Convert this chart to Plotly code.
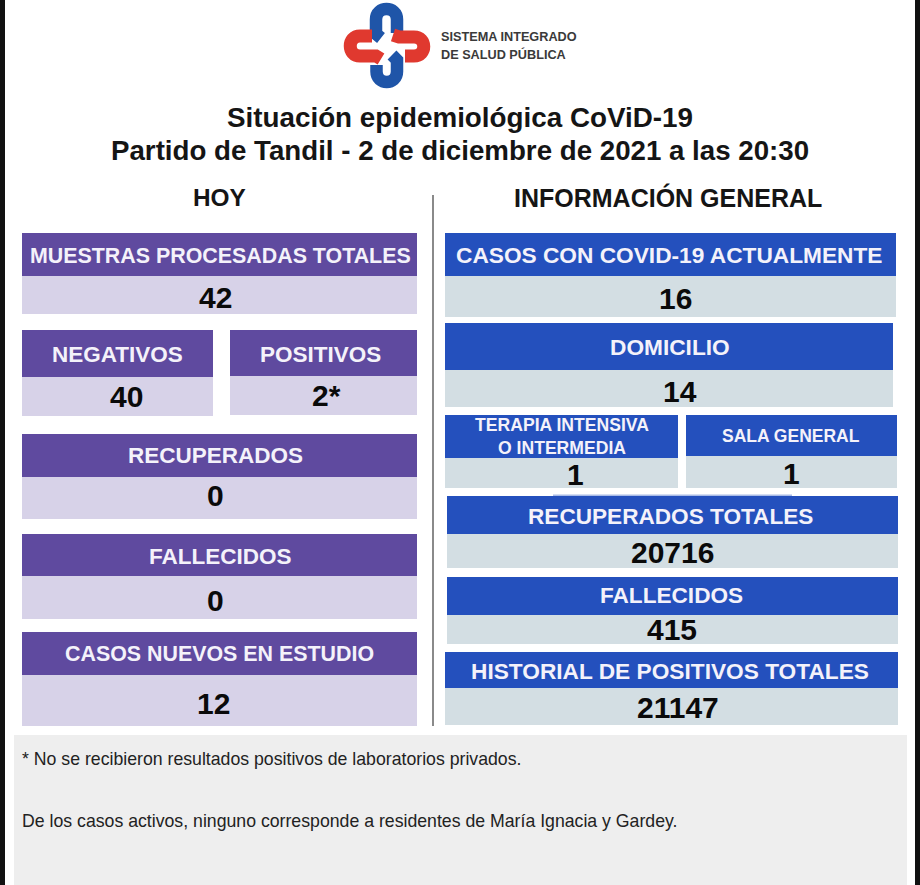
import plotly.graph_objects as go

# texts
title_lines = ["Situación epidemiológica CoViD-19", "Partido de Tandil - 2 de diciembre de 2021 a las 20:30"]
column_titles = ["HOY", "INFORMACIÓN GENERAL"]
logo_lines = ["SISTEMA INTEGRADO", "DE SALUD PÚBLICA"]
notes = ["* No se recibieron resultados positivos de laboratorios privados.",
         "De los casos activos, ninguno corresponde a residentes de María Ignacia y Gardey."]

hoy_labels = ["MUESTRAS PROCESADAS TOTALES", "NEGATIVOS", "POSITIVOS", "RECUPERADOS", "FALLECIDOS",
              "CASOS NUEVOS EN ESTUDIO"]
hoy_values = ["42", "40", "2*", "0", "0", "12"]

general_labels = ["CASOS CON COVID-19 ACTUALMENTE", "DOMICILIO", "TERAPIA INTENSIVA<br>O INTERMEDIA",
                  "SALA GENERAL", "RECUPERADOS TOTALES", "FALLECIDOS", "HISTORIAL DE POSITIVOS TOTALES"]
general_values = ["16", "14", "1", "1", "20716", "415", "21147"]

# card geometry in page pixels: left, right, header top, header bottom, value bottom
hoy_boxes = [(22, 417, 233, 276, 314), (22, 213, 330, 377, 416), (230, 417, 330, 376, 415),
             (22, 417, 434, 477, 519), (22, 417, 534, 576, 619), (22, 417, 632, 675, 726)]
general_boxes = [(445, 896, 233, 276, 317), (445, 893, 323, 370, 407), (445, 678, 415, 458, 488),
                 (686, 897, 415, 456, 488), (447, 898, 496, 534, 568), (447, 898, 577, 615, 644),
                 (445, 898, 652, 688, 725)]

# text placement per card: header size, header centre x, header centre y, value centre x, value centre y
hoy_text = [(21.4, 220.5, 256, 215, 297), (22.5, 117.5, 354, 126, 396), (22.5, 320.5, 354, 326, 395),
            (22.5, 215, 455.5, 215, 495), (22.5, 220.5, 556, 215, 600), (21.4, 219.5, 654, 213, 703)]
general_text = [(22.7, 669, 254.5, 675, 298), (22.7, 669.5, 347, 680, 391), (17.6, 562, 436.5, 575, 474),
                (17.5, 791, 436, 791, 473), (22.6, 670, 516, 672, 552), (22.6, 671, 595.5, 672, 629),
                (22.7, 670, 671, 678, 707)]

PURPLE, LILAC = "#5f4a9f", "#d7d2e8"
BLUE, GREY_BLUE = "#2450bd", "#d3dee3"
LOGO_BLUE, LOGO_RED = "#1f55a8", "#e0392f"
FONT = "Liberation Sans"

shapes = []
annotations = []


def rect(x0, x1, y0, y1, color):
    shapes.append(dict(type="rect", x0=x0, x1=x1, y0=y0, y1=y1, fillcolor=color, line_width=0, layer="below"))


def stroke(path, color, width):
    shapes.append(dict(type="path", path=path, line=dict(color=color, width=width)))


def label(x, y, text, size, color="black", bold=True, anchor="center"):
    annotations.append(dict(x=x, y=y, text=f"<b>{text}</b>" if bold else text, showarrow=False, xanchor=anchor,
                            yanchor="middle", font=dict(family=FONT, size=size, color=color)))


def draw_cards(labels, values, boxes, placed, head_color, value_color):
    for text, value, box, place in zip(labels, values, boxes, placed):
        x0, x1, y0, y1, y2 = box
        size, head_x, head_y, value_x, value_y = place
        rect(x0, x1, y0, y1, head_color)
        rect(x0, x1, y1, y2, value_color)
        label(head_x, head_y, text, size, "#f4f2fa")
        label(value_x, value_y, value, 30, "#0a0a0a")


# page edges and note panel
rect(0, 5, 0, 885, "#111111")
rect(915, 920, 0, 885, "#111111")
rect(14, 907, 735, 885, "#eeeeee")

draw_cards(hoy_labels, hoy_values, hoy_boxes, hoy_text, PURPLE, LILAC)
draw_cards(general_labels, general_values, general_boxes, general_text, BLUE, GREY_BLUE)

# thin strip left above the recuperados card in the original
rect(553, 792, 494.5, 496, "#a9bbe6")

# divider between columns
shapes.append(dict(type="line", x0=433, x1=433, y0=195, y1=726, line=dict(color="#8a8a8a", width=2)))

# logo, two interlaced loops with a white centre
stroke("M 397 33 L 397 19.5 C 397 5.5 376 5.5 376 19.5 L 376 34 L 381 38", LOGO_BLUE, 12.5)
stroke("M 392 55 L 397 60 L 397 71.5 C 397 85.5 376.5 85.5 376.5 71.5 L 376.5 65", LOGO_BLUE, 12.5)
stroke("M 372 36 L 360 36 C 347 36 347 56 360 56 L 376 56 L 381 59", LOGO_RED, 13)
stroke("M 393 35 L 399 37 L 414 37 C 427 37 427 56 414 56 L 405 56", LOGO_RED, 13)

label(438.5, 37, logo_lines[0], 12.7, "#3a3a3a", anchor="left")
label(438.5, 54, logo_lines[1], 12.7, "#3a3a3a", anchor="left")

label(459.5, 117, title_lines[0], 27.8, "#151515")
label(459.5, 150, title_lines[1], 27.7, "#151515")
label(219, 197.5, column_titles[0], 24.4, "#151515")
label(668, 197.5, column_titles[1], 25, "#151515")

label(20, 759, notes[0], 17.7, "#222222", bold=False, anchor="left")
label(20, 821, notes[1], 17.7, "#222222", bold=False, anchor="left")

fig = go.Figure()
fig.update_layout(
    width=920, height=885, margin=dict(l=0, r=0, t=0, b=0),
    paper_bgcolor="white", plot_bgcolor="white",
    xaxis=dict(range=[0, 920], visible=False, fixedrange=True),
    yaxis=dict(range=[885, 0], visible=False, fixedrange=True),
    shapes=shapes, annotations=annotations,
)

fig.write_html("out.html", config=dict(displayModeBar=False),
               post_script="document.body.style.margin='0';document.body.style.overflow='hidden';")
